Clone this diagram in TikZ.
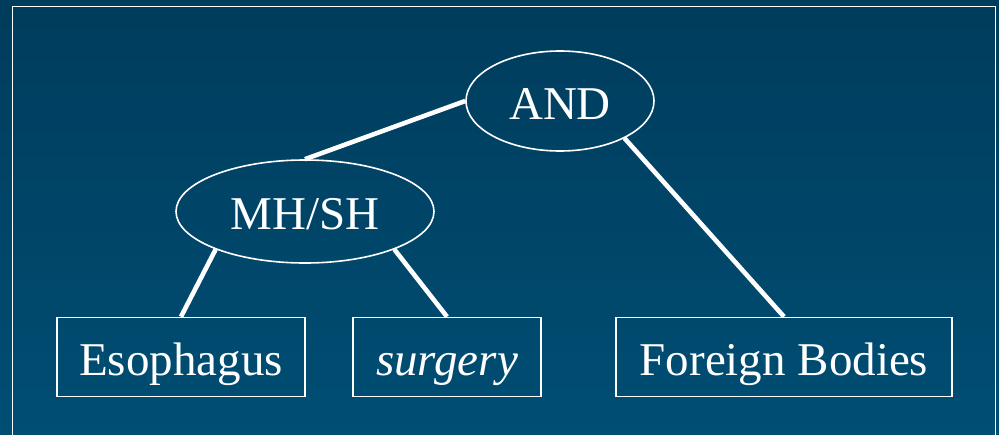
\documentclass[tikz,border=0pt]{standalone}
\usepackage{fontspec}
\setmainfont{Liberation Serif}
\usetikzlibrary{shapes.geometric}
\definecolor{bgtop}{RGB}{0,60,92}
\definecolor{bgbot}{RGB}{0,78,116}
\begin{document}
\begin{tikzpicture}[x=1pt,y=-1pt,
  lbl/.style={text=white,font=\fontsize{47}{50}\selectfont,text height=40pt,text depth=4pt},
  oval/.style={lbl,ellipse,draw=white,line width=1.6pt,inner sep=0pt},
  boxnode/.style={lbl,rectangle,draw=white,line width=1.6pt,inner sep=0pt},
  link/.style={draw=white,line width=4.6pt}]
\useasboundingbox (0,0) rectangle (999,434);
\shade[top color=bgtop,bottom color=bgbot] (0,0) rectangle (999,434);
\draw[white,line width=1.8pt] (12.5,6.5) rectangle (995.5,445);
\node[oval,minimum width=188,minimum height=100] (and) at (560,101) {AND};
\node[oval,minimum width=258,minimum height=103] (mhsh) at (305,211.5) {MH/SH};
\node[boxnode,minimum width=248,minimum height=79] (eso) at (181,357) {Esophagus};
\node[boxnode,minimum width=188,minimum height=79] (surg) at (447,357) {\itshape surgery};
\node[boxnode,minimum width=336,minimum height=79] (fb) at (784,357) {Foreign Bodies};
\draw[link] (and.west) -- (mhsh.north);
\draw[link] (and.-30) -- (fb.north);
\draw[link] (mhsh.-157) -- (eso.north);
\draw[link] (mhsh.-23) -- (surg.north);
\end{tikzpicture}
\end{document}
